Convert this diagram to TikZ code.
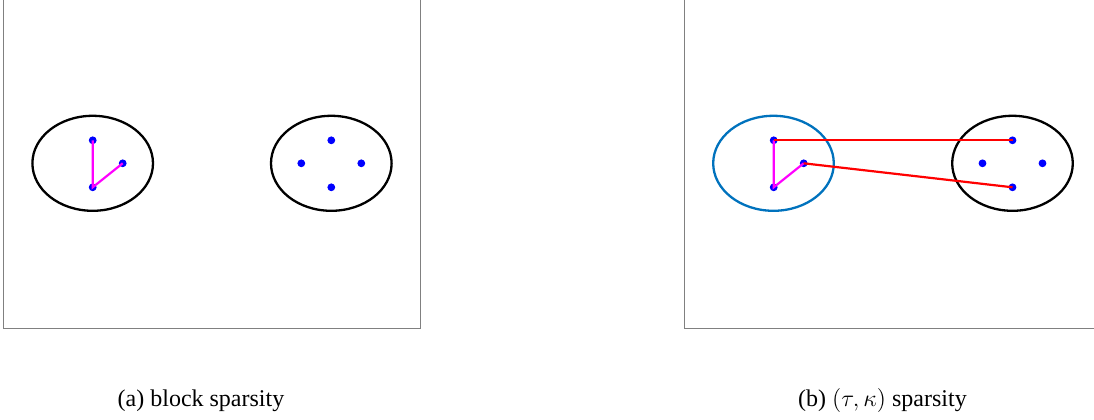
\documentclass[tikz,border=0pt]{standalone}
\usepackage{fontspec}
\setmainfont{Liberation Serif}
\usetikzlibrary{shapes.geometric}
\definecolor{clusblue}{rgb}{0,0.447,0.741}
\definecolor{intramag}{rgb}{1,0,1}
\definecolor{interred}{rgb}{1,0,0}
\definecolor{ptblue}{rgb}{0,0,1}
\tikzset{
  every picture/.style={line width=0.6pt},
  clus/.style={draw,ellipse,line width=1.15pt,minimum width=60.3pt,minimum height=47.5pt,inner sep=0},
  pt/.style={circle,fill=ptblue,inner sep=0,minimum size=3.9pt},
  frm/.style={draw=gray,line width=0.5pt},
  intra/.style={intramag,line width=1.1pt},
  inter/.style={interred,line width=1.1pt},
  subcap/.style={font=\fontsize{12}{14}\selectfont,anchor=base,inner sep=0},
}

\begin{document}
\begin{tikzpicture}[x=0.5pt,y=0.5pt]
\useasboundingbox (0,0) rectangle (1094,419);
% frames (top edge out of view)
\draw[frm] (3.5,425) -- (3.5,90.3) -- (420.7,90.3) -- (420.7,425);
\draw[frm] (684.3,425) -- (684.3,90.3) -- (1100,90.3);
% (a) block sparsity
\node[clus] (A1) at (92.7,255.7) {};
\node[clus] (A2) at (331.3,255.7) {};
\node[pt] (a1t) at (92.7,278.7) {};
\node[pt] (a1b) at (92.7,231.7) {};
\node[pt] (a1r) at (122.7,255.7) {};
\node[pt] (a2t) at (331.3,278.7) {};
\node[pt] (a2b) at (331.3,231.7) {};
\node[pt] (a2l) at (301.3,255.7) {};
\node[pt] (a2r) at (361.3,255.7) {};
\draw[intra] (a1t.center) -- (a1b.center) -- (a1r.center);
\node[subcap] (capa) at (201,12.3) {(a) block sparsity};
% (b) (tau,kappa) sparsity
\node[clus,draw=clusblue] (B1) at (773.5,255.7) {};
\node[clus] (B2) at (1012.5,255.7) {};
\node[pt] (b1t) at (773.7,278.7) {};
\node[pt] (b1b) at (773.7,231.7) {};
\node[pt] (b1r) at (803.7,255.7) {};
\node[pt] (b2t) at (1012.5,278.7) {};
\node[pt] (b2b) at (1012.5,231.7) {};
\node[pt] (b2l) at (982.5,255.7) {};
\node[pt] (b2r) at (1042.5,255.7) {};
\draw[intra] (b1t.center) -- (b1b.center) -- (b1r.center);
\draw[inter] (b1t.center) -- (b2t.center);
\draw[inter] (b1r.center) -- (b2b.center);
\node[subcap] (capb) at (882.5,12.3) {(b) $(\tau,\kappa)$ sparsity};
\end{tikzpicture}
\end{document}
